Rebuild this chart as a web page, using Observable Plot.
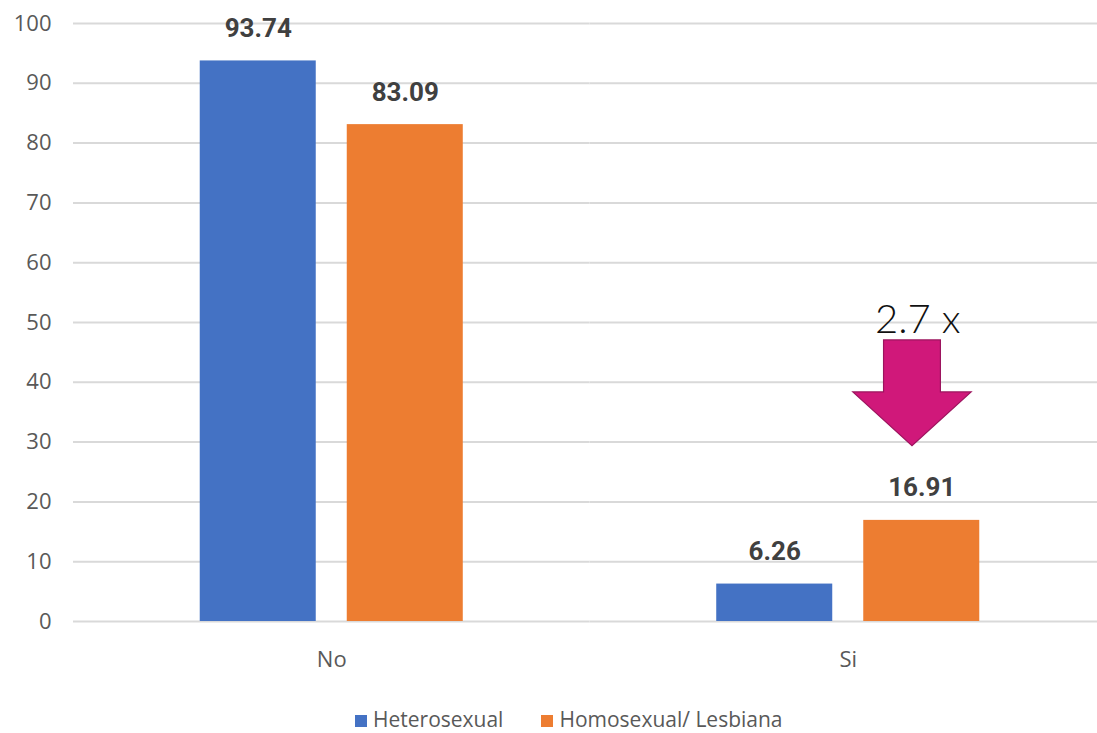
<!DOCTYPE html>
<html><head><meta charset="utf-8">
<script src="https://cdn.jsdelivr.net/npm/d3@7"></script>
<script src="https://cdn.jsdelivr.net/npm/@observablehq/plot@0.6"></script>
<style>
body{margin:0;background:#fff;width:1097px;height:733px;overflow:hidden;position:relative;font-family:"Open Sans",sans-serif}
#chart{position:absolute;left:0;top:0}
#chart svg{max-width:none !important}
#legend{position:absolute;top:705px;left:355px;display:flex;align-items:center;font-size:21px;color:#595959;white-space:nowrap}
#legend .item{display:flex;align-items:center;margin-right:38px}
#legend .sw{width:12px;height:12px;margin-right:6px;margin-top:4px}
</style></head><body>
<div id="chart"></div><div id="legend"></div>
<script>
const categories = ["No", "Si"];
const series = ["Heterosexual", "Homosexual/ Lesbiana"];
const heterosexual = [93.74, 6.26];
const homosexual = [83.09, 16.91];
const colors = ["#4472C4", "#ED7D31"];
const yTicks = [0, 10, 20, 30, 40, 50, 60, 70, 80, 90, 100];
const annotationText = "2.7 x";
const annotationCategory = "Si";
const annotationSeries = "Homosexual/ Lesbiana";
const annotationTextY = 48.3;
const arrowTop = 47, arrowNeck = 38.3, arrowTip = 29.3;

const rows = categories.flatMap((c, i) => [
  {cat: c, s: series[0], v: heterosexual[i]},
  {cat: c, s: series[1], v: homosexual[i]}
]);
const W = 1106, H = 690, ML = 73;
const chart = Plot.plot({
  width: W, height: H, marginLeft: ML, marginRight: 0, marginTop: 23, marginBottom: 69,
  style: {fontFamily: "Open Sans", background: "transparent", overflow: "visible", maxWidth: "none"},
  fx: {domain: categories, padding: 0, round: false, label: null},
  x: {domain: series, paddingInner: 31 / 147, paddingOuter: 0.862, round: false, axis: null},
  y: {domain: [0, 100]},
  color: {domain: series, range: colors},
  marks: [
    Plot.gridY(yTicks, {stroke: "#d9d9d9", strokeWidth: 2, strokeOpacity: 1}),
    Plot.axisY(yTicks, {tickSize: 0, tickPadding: 22, fontSize: 22, color: "#595959", label: null}),
    Plot.axisFx({anchor: "bottom", tickSize: 0, tickPadding: 30, fontSize: 22, color: "#595959", label: null}),
    Plot.barY(rows, {fx: "cat", x: "s", y: "v", fill: "s"}),
    Plot.text(rows, {fx: "cat", x: "s", y: "v", text: d => d.v.toFixed(2), lineAnchor: "bottom", dy: -24,
      fontSize: 26, fontWeight: "bold", fontFamily: "Roboto", fill: "#404040"}),
    Plot.text([{cat: annotationCategory, s: annotationSeries, y: annotationTextY, t: annotationText}],
      {fx: "cat", x: "s", y: "y", text: "t", dx: -4, lineAnchor: "bottom", fontSize: 40, fontWeight: 300,
       fontFamily: "Lato", fill: "#111"})
  ]
});
document.getElementById("chart").appendChild(chart);

// block arrow drawn with the plot's own scales
const fxS = chart.scale("fx"), xS = chart.scale("x"), yS = chart.scale("y");
const bw = xS.bandwidth;
const cx = fxS.apply(annotationCategory) - ML + xS.apply(annotationSeries) + bw / 2 - 0.08 * bw;
const hw = 0.51 * bw, sw = 0.245 * bw;
const pts = [
  [cx - sw, yS.apply(arrowTop)], [cx + sw, yS.apply(arrowTop)], [cx + sw, yS.apply(arrowNeck)],
  [cx + hw, yS.apply(arrowNeck)], [cx, yS.apply(arrowTip)], [cx - hw, yS.apply(arrowNeck)],
  [cx - sw, yS.apply(arrowNeck)]
];
d3.select(chart).append("polygon")
  .attr("points", pts.map(p => p.join(",")).join(" "))
  .attr("fill", "#D0187A").attr("stroke", "#9C145E").attr("stroke-width", 1.2);

const legend = d3.select("#legend");
series.forEach((s, i) => {
  const it = legend.append("div").attr("class", "item");
  it.append("div").attr("class", "sw").style("background", colors[i]);
  it.append("span").text(s);
});
</script>
</body></html>
